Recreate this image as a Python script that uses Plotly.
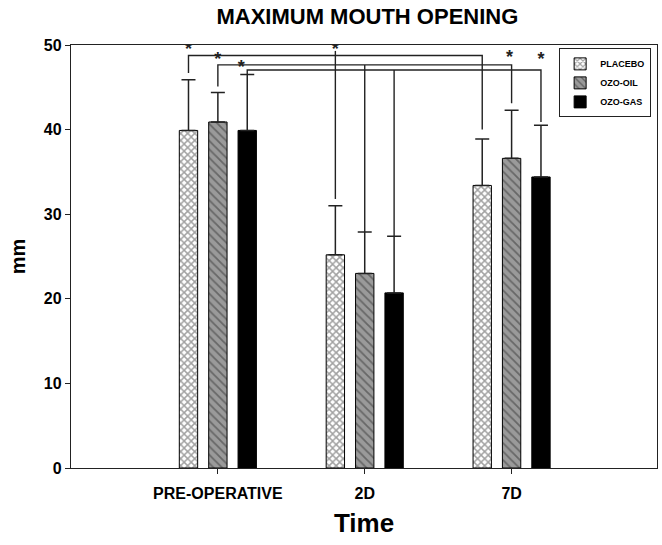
import plotly.graph_objects as go

categories = ["PRE-OPERATIVE", "2D", "7D"]
series_names = ["PLACEBO", "OZO-OIL", "OZO-GAS"]
means = {
    "PLACEBO": [39.9, 25.2, 33.4],
    "OZO-OIL": [40.9, 23.0, 36.6],
    "OZO-GAS": [39.9, 20.7, 34.4],
}
sds = {
    "PLACEBO": [6.0, 5.8, 5.5],
    "OZO-OIL": [3.5, 4.9, 5.7],
    "OZO-GAS": [6.6, 6.7, 6.1],
}
y_ticks = [0, 10, 20, 30, 40, 50]

# significance brackets
bracket_series = ["PLACEBO", "OZO-OIL", "OZO-GAS"]
bracket_levels = [48.75, 47.65, 47.05]
bracket_pre_bottom = [46.7, 45.1, 46.5]
bracket_7d_bottom = [40.0, 43.1, 40.9]
bracket_2d_top = [49.3, 47.65, 47.05]
bracket_2d_bottom = [31.8, 27.9, 27.4]

# stars: (category index, series index, y)
star_cat = [0, 1, 0, 2, 2, 0]
star_ser = [0, 0, 1, 1, 2, 2]
star_y = [49.4, 49.4, 48.2, 48.45, 48.2, 47.2]
star_dx = [0.0, 0.0, 0.0, -0.015, 0.0, -0.04]

offsets = [-0.2, 0.0, 0.2]
bar_w = 0.125

styles = {
    "PLACEBO": dict(color="white", pattern=dict(shape="x", fgcolor="#444444", bgcolor="white", size=5, solidity=0.5)),
    "OZO-OIL": dict(color="#9a9a9a", pattern=dict(shape="\\", fgcolor="#333333", bgcolor="#9a9a9a", size=6, solidity=0.3)),
    "OZO-GAS": dict(color="black"),
}

fig = go.Figure()
for i, name in enumerate(series_names):
    xs = [c + offsets[i] for c in range(len(categories))]
    st = styles[name]
    marker = dict(color=st["color"], line=dict(color="black", width=1))
    if "pattern" in st:
        marker["pattern"] = st["pattern"]
    fig.add_trace(go.Bar(
        x=xs, y=means[name], width=bar_w, name=name, marker=marker,
        error_y=dict(type="data", symmetric=False, array=sds[name],
                     arrayminus=[0] * len(categories), color="#222222",
                     thickness=1.5, width=7),
    ))

line_style = dict(color="#222222", width=1.4)
for k, s in enumerate(bracket_series):
    si = series_names.index(s)
    x0 = 0 + offsets[si]
    x1 = 1 + offsets[si]
    x2 = 2 + offsets[si]
    fig.add_trace(go.Scatter(
        x=[x0, x0, x2, x2],
        y=[bracket_pre_bottom[k], bracket_levels[k], bracket_levels[k], bracket_7d_bottom[k]],
        mode="lines", line=line_style, showlegend=False, hoverinfo="skip"))
    fig.add_trace(go.Scatter(
        x=[x1, x1], y=[bracket_2d_top[k], bracket_2d_bottom[k]],
        mode="lines", line=line_style, showlegend=False, hoverinfo="skip"))

font_b = "Liberation Sans, Arial"
fig.add_trace(go.Scatter(
    x=[c + offsets[s] + d for c, s, d in zip(star_cat, star_ser, star_dx)],
    y=star_y, mode="text", text=["*"] * len(star_y),
    textfont=dict(size=18, color="#222222", family=font_b, weight="bold"),
    textposition="middle center", showlegend=False, hoverinfo="skip"))

fig.update_layout(
    width=662, height=545,
    margin=dict(l=71, r=5, t=45, b=77),
    plot_bgcolor="white", paper_bgcolor="white",
    barmode="overlay",
    title=dict(text="MAXIMUM MOUTH OPENING", x=0.555, xanchor="center",
               y=0.985, yanchor="top",
               font=dict(size=22, color="black", family=font_b, weight="bold")),
    xaxis=dict(range=[-1.0, 2.99], tickmode="array", tickvals=[0, 1, 2],
               ticktext=categories,
               ticks="outside", ticklen=5, tickcolor="#222", showline=True,
               linecolor="#222", linewidth=1.3, mirror=True, showgrid=False,
               zeroline=False, ticklabelstandoff=6,
               tickfont=dict(size=16, color="black", family=font_b, weight="bold"),
               title=dict(text="Time", font=dict(size=26, color="black", family=font_b, weight="bold"),
                          standoff=12)),
    yaxis=dict(range=[0, 50], tickvals=y_ticks, ticks="outside", ticklen=5,
               tickcolor="#222", showline=True, linecolor="#222", linewidth=1.3,
               mirror=True, showgrid=False, zeroline=False,
               tickfont=dict(size=16, color="black", family=font_b, weight="bold"),
               title=dict(text="mm", font=dict(size=20, color="black", family=font_b, weight="bold"),
                          standoff=12)),
    legend=dict(x=0.99, y=0.992, xanchor="right", yanchor="top",
                bordercolor="#222", borderwidth=1, bgcolor="white",
                font=dict(size=9, color="black", family=font_b, weight="bold"),
                itemwidth=30, tracegroupgap=0),
    showlegend=True,
)

fig.write_html("out.html")
